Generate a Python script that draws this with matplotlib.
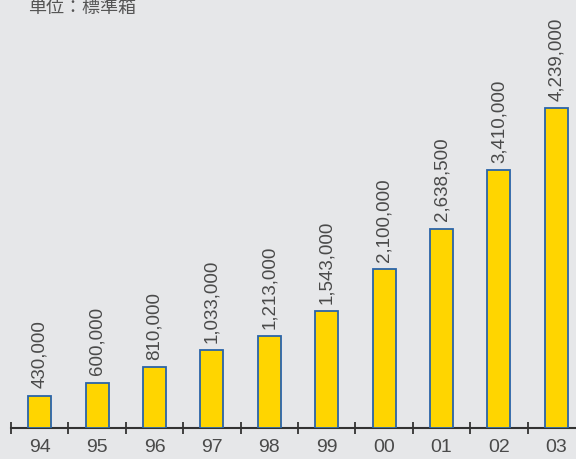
import matplotlib.pyplot as plt
import numpy as np

years = ["94", "95", "96", "97", "98", "99", "00", "01", "02", "03"]
values = [430000, 600000, 810000, 1033000, 1213000, 1543000, 2100000, 2638500, 3410000, 4239000]
unit_label = "単位：標準箱"

bg = "#e6e7e9"
fig = plt.figure(figsize=(5.76, 4.6), dpi=100, facecolor=bg)
ax = fig.add_axes([11 / 576, 31 / 460, 574 / 576, 429 / 460])
ax.set_facecolor(bg)

x = np.arange(len(years))
ax.bar(x, values, width=0.4, color="#ffd500", edgecolor="#2a64a8", linewidth=1.3, zorder=3)

for xi, v in zip(x, values):
    ax.text(xi, v + 110000, f"{v:,}", rotation=90, ha="center", va="bottom",
            fontsize=13.5, color="#4a4a4a", family="Liberation Sans")

ax.set_xlim(-0.5, 9.5)
ax.set_ylim(0, 5680000)
ax.set_yticks([])
ax.set_xticks(np.arange(-0.5, 10, 1))
ax.set_xticklabels([])
ax.set_xticks(x, minor=True)
ax.set_xticklabels(years, minor=True, fontsize=14, color="#4a4a4a", family="Liberation Sans")
ax.tick_params(axis="x", which="major", direction="inout", length=9, width=1.3, color="#333333")
ax.tick_params(axis="x", which="minor", length=0, pad=7)
for s in ["top", "right", "left"]:
    ax.spines[s].set_visible(False)
ax.spines["bottom"].set_color("#333333")
ax.spines["bottom"].set_linewidth(1.5)

fig.text(28 / 576, 1 - 13 / 460, unit_label, fontsize=13, color="#555555",
         family=["Noto Sans CJK JP", "DejaVu Sans"], va="baseline")

fig.savefig("out.png", dpi=100, facecolor=bg)
